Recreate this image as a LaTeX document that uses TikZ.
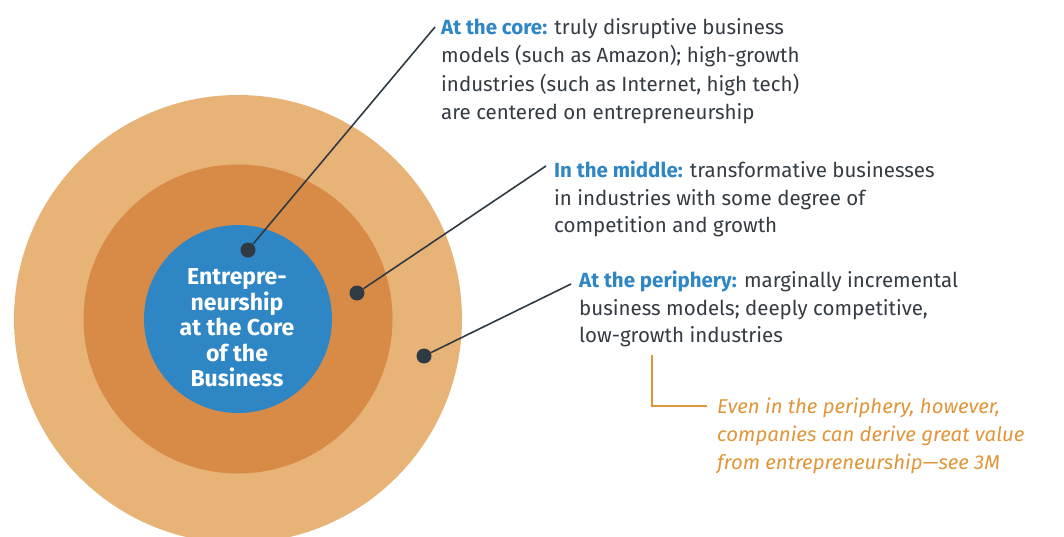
\documentclass[tikz,border=0pt]{standalone}
\usepackage{fontspec}
\setmainfont{Fira Sans}
\newfontfamily\notefont{Fira Sans}[FakeStretch=1.02]
\definecolor{ringout}{HTML}{E8B377}
\definecolor{ringmid}{HTML}{D78B47}
\definecolor{coreblue}{HTML}{2E86C5}
\definecolor{dotgray}{HTML}{2F3A42}
\definecolor{textgray}{HTML}{343B42}
\definecolor{noteorange}{HTML}{E0963A}
\tikzset{
  ring/.style={circle, inner sep=0pt, draw=none},
  dotmark/.style={circle, inner sep=0pt, minimum size=15pt, fill=dotgray},
  leader/.style={draw=dotgray, line width=1.6pt},
  blurb/.style={anchor=north west, inner sep=0pt, align=left, text=textgray,
    font=\fontsize{20.5}{28.5}\selectfont},
  noteline/.style={draw=noteorange, line width=1.4pt},
  notetext/.style={anchor=north west, inner sep=0pt, align=left, text=noteorange,
    font=\notefont\fontsize{20}{28}\selectfont\itshape},
  centertext/.style={align=center, inner sep=0pt, text=white,
    font=\fontsize{23}{25.5}\selectfont\bfseries}
}
\begin{document}
\begin{tikzpicture}[x=1pt,y=-1pt]
\useasboundingbox (0,0) rectangle (1064,536);
\begin{scope}
  \clip (0,0) rectangle (1064,536);
  % concentric rings
  \node[ring, fill=ringout, minimum size=448pt] (outer) at (238,319) {};
  \node[ring, fill=ringmid, minimum size=309pt] (middle) at (238,319) {};
  \node[ring, fill=coreblue, minimum size=188pt] (core) at (238,319) {};
\end{scope}
\node[centertext] (title) at (237,328) {Entrepre-\\neurship\\at the Core\\of the\\Business};

% label texts
\node[blurb] (tcore) at (441,18) {{\color{coreblue}\bfseries At the core:} truly disruptive business\\models (such as Amazon); high-growth\\industries (such as Internet, high tech)\\are centered on entrepreneurship};
\node[blurb, font=\fontsize{20.5}{27.5}\selectfont] (tmid) at (554,161) {{\color{coreblue}\bfseries In the middle:} transformative businesses\\in industries with some degree of\\competition and growth};
\node[blurb, font=\fontsize{20.5}{27.5}\selectfont] (tper) at (579,271) {{\color{coreblue}\bfseries At the periphery:} marginally incremental\\business models; deeply competitive,\\low-growth industries};
\node[notetext] (tnote) at (717,398) {Even in the periphery, however,\\companies can derive great value\\from entrepreneurship—see 3M};

% leader lines
\coordinate (ecore) at (435,27);
\coordinate (emid) at (546,166);
\coordinate (eper) at (571,284);
\node[dotmark] (dcore) at (248,250) {};
\node[dotmark] (dmid) at (357,293) {};
\node[dotmark] (dper) at (424,356) {};
\draw[leader] (dcore) -- (ecore);
\draw[leader] (dmid) -- (emid);
\draw[leader] (dper) -- (eper);

% note bracket
\coordinate (btop) at (652,355);
\coordinate (bend) at (707,406);
\draw[noteline] (btop) |- (bend);
\end{tikzpicture}
\end{document}
